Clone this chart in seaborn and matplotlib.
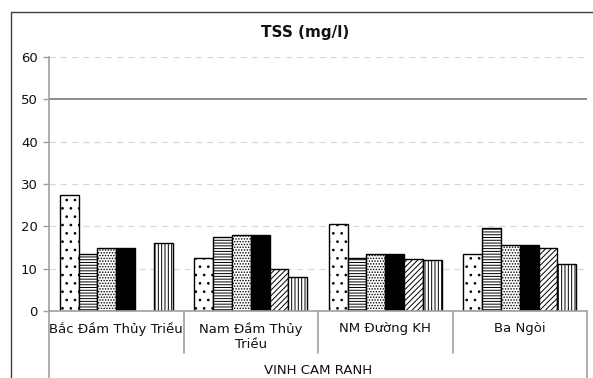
import numpy as np
import pandas as pd
import matplotlib
matplotlib.use("Agg")
import matplotlib.pyplot as plt
import seaborn as sns
from matplotlib.lines import Line2D

categories = ["Bắc Đầm Thủy Triều", "Nam Đầm Thủy\nTriều", "NM Đường KH", "Ba Ngòi"]
outer_label = "VINH CAM RANH"
series_names = ["Đợt 1", "Đợt 2", "Đợt 3", "Đợt 4", "Đợt 5", "Đợt 6"]
s1 = [27.5, 12.5, 20.5, 13.5]
s2 = [13.5, 17.5, 12.5, 19.5]
s3 = [15.0, 18.0, 13.5, 15.5]
s4 = [15.0, 18.0, 13.5, 15.5]
s5 = [np.nan, 10.0, 12.2, 15.0]
s6 = [16.0, 8.0, 12.0, 11.0]
limit_value = 50
yticks = [0, 10, 20, 30, 40, 50, 60]
title = "TSS (mg/l)"

all_series = [s1, s2, s3, s4, s5, s6]
rows = []
for name, vals in zip(series_names, all_series):
    for c, v in zip(categories, vals):
        rows.append({"site": c, "series": name, "value": v})
df = pd.DataFrame(rows)

sns.set_theme(style="white")
plt.rcParams["font.family"] = ["DejaVu Sans"]
plt.rcParams["hatch.linewidth"] = 0.7

fig = plt.figure(figsize=(5.93, 3.78), dpi=100)
ax = fig.add_axes([49/593, 1-311/378, (587-49)/593, (311-57)/378])

fills = ["white", "white", "white", "black", "white", "white"]
hatches = ["..", "------", "......", "", "//////", "|||||"]
palette = dict(zip(series_names, fills))

sns.barplot(data=df, x="site", y="value", hue="series", order=categories,
            hue_order=series_names, palette=palette, width=0.84,
            edgecolor="black", linewidth=1.0, legend=False, ax=ax, errorbar=None)

for cont, h in zip(ax.containers, hatches):
    for p in cont:
        p.set_hatch(h)
        p.set_edgecolor("black")

ax.set_ylim(0, 60)
ax.set_xlim(-0.5, 3.5)
ax.set_yticks(yticks)
ax.set_yticklabels([str(t) for t in yticks], fontsize=9.5, color="#111111")
for t in yticks:
    if t in (0, limit_value):
        continue
    ax.axhline(t, color="#d8d8d8", lw=0.9, ls=(0, (5, 4)), zorder=0)
ax.axhline(limit_value, color="#8c8c8c", lw=1.4, zorder=0.5)

ax.set_xlabel("")
ax.set_ylabel("")
ax.set_xticks([])
for s in ["top", "right"]:
    ax.spines[s].set_visible(False)
ax.spines["left"].set_color("#a0a0a0")
ax.spines["bottom"].set_color("#a0a0a0")
ax.spines["left"].set_linewidth(1.2)
ax.spines["bottom"].set_linewidth(1.2)
ax.tick_params(axis="y", which="both", direction="out", length=4, width=1.0,
               color="#a0a0a0", pad=4, left=True)

trans = ax.get_xaxis_transform()
h_ax = (311-57)
def ay(px):
    return (311 - px) / h_ax

for xb in [-0.5, 0.5, 1.5, 2.5, 3.5]:
    ybot = ay(380) if xb in (-0.5, 3.5) else ay(353)
    ax.plot([xb, xb], [0, ybot], transform=trans, color="#a0a0a0", lw=1.2,
            clip_on=False)

for i, c in enumerate(categories):
    ax.text(i, ay(322), c, transform=trans, ha="center", va="top",
            fontsize=9.5, color="#111111", linespacing=1.2)
ax.text(1.5, ay(370), outer_label, transform=trans, ha="center", va="center",
        fontsize=9.5, color="#111111")

fig.text(305/593, 1-32/378, title, ha="center", va="center", fontsize=11,
         fontweight="bold", color="#111111")

ytop = 1 - 11.5/378
x0 = 11/593
fig.add_artist(Line2D([x0, 1.0], [ytop, ytop], transform=fig.transFigure,
                      color="#404040", lw=1.0))
fig.add_artist(Line2D([x0, x0], [ytop, 0.0], transform=fig.transFigure,
                      color="#404040", lw=1.0))

fig.savefig("out.png", dpi=100)
